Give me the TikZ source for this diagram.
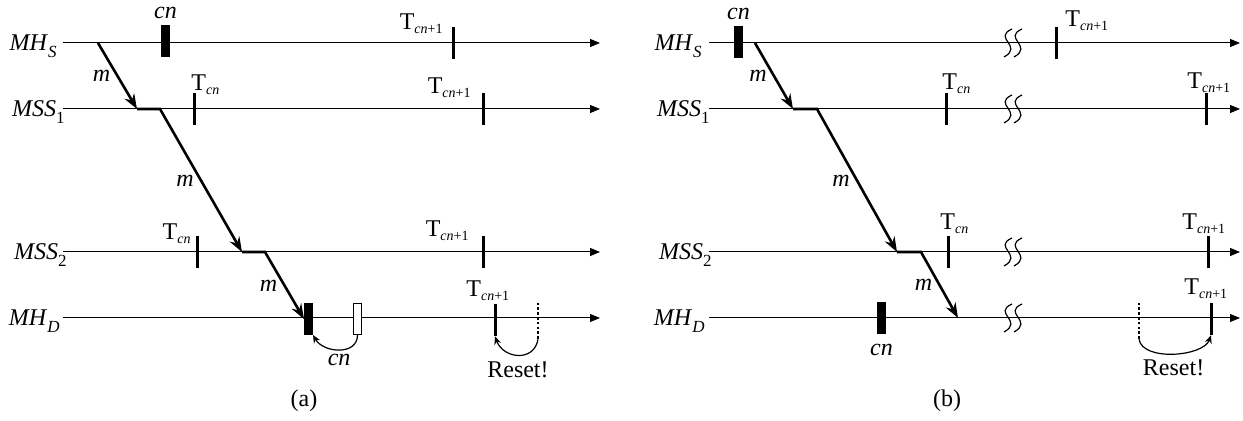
\documentclass[tikz,border=0pt]{standalone}
\usepackage{fontspec}
\setmainfont{Liberation Serif}
\usetikzlibrary{arrows.meta, positioning}

\newcommand{\lanename}[2]{\textit{#1}\raisebox{-3.5pt}{\fontsize{8.5}{9}\selectfont #2}}
\newcommand{\Tlabel}[1]{T\raisebox{-1.8pt}{\fontsize{7}{8}\selectfont #1}}

\begin{document}
\begin{tikzpicture}[x=0.5pt, y=-0.5pt,
    lane/.style={line width=0.5pt, -{Triangle[length=5pt, width=4pt]}},
    msg/.style={line width=1.3pt, -{Stealth[length=7.5pt, width=5.5pt, inset=2.5pt]}},
    timer/.style={fill=black, inner sep=0pt, minimum width=1.5pt, minimum height=16pt},
    ghosttick/.style={inner sep=0pt, minimum width=1.5pt, minimum height=18pt},
    dotline/.style={line width=1.3pt, dash pattern=on 1.3pt off 1.1pt},
    slot/.style={draw=black, line width=0.5pt, fill=black, inner sep=0pt, minimum width=4pt, minimum height=15.5pt},
    loopback/.style={line width=0.6pt, -{Stealth[length=4pt, width=3.5pt]}},
    lbl/.style={inner sep=0pt, font=\fontsize{12}{14}\selectfont},
    brk/.style={line width=0.6pt}
]
    \useasboundingbox (0,0) rectangle (1243,421);

    % (a) lanes
    \coordinate (hsA0) at (63,43);   \coordinate (hsA1) at (600,43);
    \coordinate (m1A0) at (63,109);  \coordinate (m1A1) at (600,109);
    \coordinate (m2A0) at (63,252);  \coordinate (m2A1) at (600,252);
    \coordinate (hdA0) at (63,318);  \coordinate (hdA1) at (600,318);
    \draw[lane] (hsA0) -- (hsA1);
    \draw[lane] (m1A0) -- (m1A1);
    \draw[lane] (m2A0) -- (m2A1);
    \draw[lane] (hdA0) -- (hdA1);
    \node[lbl, anchor=base east] (lhsA) at (57,51) {\lanename{MH}{\textit{S}}};
    \node[lbl, anchor=base east] (lm1A) at (65,117) {\lanename{MSS}{1}};
    \node[lbl, anchor=base east] (lm2A) at (67,260) {\lanename{MSS}{2}};
    \node[lbl, anchor=base east] (lhdA) at (60,326) {\lanename{MH}{\textit{D}}};

    % (a) timers
    \node[timer] (tA1) at (453,43) {};
    \node[timer] (tA2) at (194,109) {};
    \node[timer] (tA3) at (483,109) {};
    \node[timer] (tA4) at (197,252) {};
    \node[timer] (tA5) at (483,252) {};
    \node[timer] (tA6) at (495,320) {};
    \node[ghosttick] (rstA) at (538,321) {};
    \draw[dotline] (rstA.north) -- (rstA.south);
    \node[lbl, anchor=base east] (tA1l) at (443,30) {\Tlabel{\textit{cn}+1}};
    \node[lbl, anchor=base west] (tA2l) at (191,91) {\Tlabel{\textit{cn}}};
    \node[lbl, anchor=base east] (tA3l) at (471,94) {\Tlabel{\textit{cn}+1}};
    \node[lbl, anchor=base east] (tA4l) at (191,240) {\Tlabel{\textit{cn}}};
    \node[lbl, anchor=base east] (tA5l) at (469,237) {\Tlabel{\textit{cn}+1}};
    \node[lbl, anchor=base west] (tA6l) at (466,297) {\Tlabel{\textit{cn}+1}};

    % (a) checkpoint numbers
    \node[slot] (cnA) at (165.5,41) {};
    \node[lbl, above=3pt of cnA] (cnAl) {\textit{cn}};
    \node[slot] (cnDA) at (308.5,319) {};
    \node[slot, fill=white] (cnWA) at (357.5,319) {};
    \draw[loopback] (cnWA.south) to[out=-90, in=-60, looseness=1.2] node[lbl, below=2pt] (cnWAl) {\textit{cn}} (cnDA.south east);
    \draw[loopback] (rstA.south) to[out=-100, in=-70, looseness=1.4] node[lbl, below=3pt] (rstAl) {Reset!} (tA6.south);

    % (a) message
    \coordinate (pA0) at (98,43);
    \coordinate (pA1) at (137,109);
    \coordinate (pA2) at (160,109);
    \coordinate (pA3) at (242,252);
    \coordinate (pA4) at (265,252);
    \draw[msg] (pA0) -- node[lbl, left=3pt] {\textit{m}} (pA1);
    \draw[msg] (pA1) -- (pA2) -- node[lbl, left=3pt] {\textit{m}} (pA3);
    \draw[msg] (pA3) -- (pA4) -- node[lbl, left=3pt] {\textit{m}} (cnDA.west);
    \node[lbl] (capA) at (304,401) {(a)};

    % (b) lanes
    \coordinate (hsB0) at (709,43);   \coordinate (hsB1) at (1240,43);
    \coordinate (m1B0) at (709,109);  \coordinate (m1B1) at (1240,109);
    \coordinate (m2B0) at (709,252);  \coordinate (m2B1) at (1240,252);
    \coordinate (hdB0) at (709,318);  \coordinate (hdB1) at (1240,318);
    \draw[lane] (hsB0) -- (hsB1);
    \draw[lane] (m1B0) -- (m1B1);
    \draw[lane] (m2B0) -- (m2B1);
    \draw[lane] (hdB0) -- (hdB1);
    \node[lbl, anchor=base east] (lhsB) at (702,51) {\lanename{MH}{\textit{S}}};
    \node[lbl, anchor=base east] (lm1B) at (710,117) {\lanename{MSS}{1}};
    \node[lbl, anchor=base east] (lm2B) at (712,260) {\lanename{MSS}{2}};
    \node[lbl, anchor=base east] (lhdB) at (705,326) {\lanename{MH}{\textit{D}}};

    % (b) breaks
    \foreach \y in {43,109,252,318}
        \foreach \c in {1008,1018}
            \draw[brk] (\c+4,\y-14) .. controls (\c-16,\y-5) and (\c+16,\y+3) .. (\c-4,\y+14);

    % (b) timers
    \node[timer] (tB1) at (1056,43) {};
    \node[timer] (tB2) at (946,109) {};
    \node[timer] (tB3) at (1206,109) {};
    \node[timer] (tB4) at (948,252) {};
    \node[timer] (tB5) at (1208,252) {};
    \node[timer] (tB6) at (1211,319) {};
    \node[ghosttick] (rstB) at (1139,321) {};
    \draw[dotline] (rstB.north) -- (rstB.south);
    \node[lbl, anchor=base west] (tB1l) at (1065,27) {\Tlabel{\textit{cn}+1}};
    \node[lbl, anchor=base west] (tB2l) at (942,90) {\Tlabel{\textit{cn}}};
    \node[lbl, anchor=base west] (tB3l) at (1187,89) {\Tlabel{\textit{cn}+1}};
    \node[lbl, anchor=base west] (tB4l) at (940,230) {\Tlabel{\textit{cn}}};
    \node[lbl, anchor=base west] (tB5l) at (1182,230) {\Tlabel{\textit{cn}+1}};
    \node[lbl, anchor=base west] (tB6l) at (1184,295) {\Tlabel{\textit{cn}+1}};

    % (b) checkpoint numbers
    \node[slot] (cnB) at (738.5,42) {};
    \node[lbl, above=3pt of cnB] (cnBl) {\textit{cn}};
    \node[slot] (cnDB) at (881.5,318) {};
    \node[lbl, below=5pt of cnDB] (cnDBl) {\textit{cn}};
    \draw[loopback] (rstB.south) to[out=-80, in=-110, looseness=0.8] node[lbl, below=3pt] (rstBl) {Reset!} (tB6.south);

    % (b) message
    \coordinate (pB0) at (755,43);
    \coordinate (pB1) at (793,109);
    \coordinate (pB2) at (817,109);
    \coordinate (pB3) at (897,252);
    \coordinate (pB4) at (921,252);
    \coordinate (pB5) at (958,318);
    \draw[msg] (pB0) -- node[lbl, left=3pt] {\textit{m}} (pB1);
    \draw[msg] (pB1) -- (pB2) -- node[lbl, left=3pt] {\textit{m}} (pB3);
    \draw[msg] (pB3) -- (pB4) -- node[lbl, left=3pt] {\textit{m}} (pB5);
    \node[lbl] (capB) at (947,401) {(b)};
\end{tikzpicture}
\end{document}
